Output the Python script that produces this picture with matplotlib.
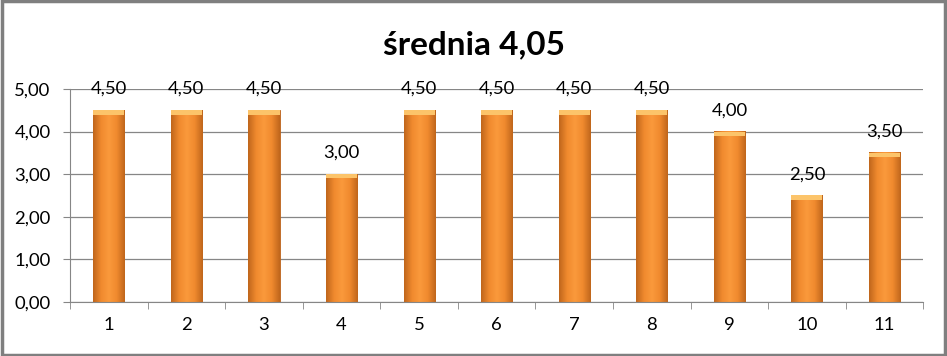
import numpy as np
import matplotlib.pyplot as plt
from matplotlib.patches import Rectangle
from matplotlib.colors import LinearSegmentedColormap

plt.rcParams['font.family'] = ['Lato', 'DejaVu Sans']

categories = ['1', '2', '3', '4', '5', '6', '7', '8', '9', '10', '11']
values = [4.5, 4.5, 4.5, 3.0, 4.5, 4.5, 4.5, 4.5, 4.0, 2.5, 3.5]
title = 'średnia 4,05'

fig = plt.figure(figsize=(9.47, 3.56), dpi=100)
ax = fig.add_axes([0.074, 0.152, 0.901, 0.598])

x = np.arange(len(categories))
width = 0.4

# horizontal shading to mimic the bevelled bars
cmap = LinearSegmentedColormap.from_list('bevel', ['#C0661C', '#F08A2E', '#FA9A3C', '#F08A2E', '#C0661C'])
grad = np.linspace(0, 1, 64).reshape(1, -1)

bars = ax.bar(x, values, width, color='#F79646', edgecolor='#B85F18', linewidth=0.6, zorder=2)
for b in bars:
    x0, w, h = b.get_x(), b.get_width(), b.get_height()
    ax.imshow(grad, cmap=cmap, aspect='auto', extent=[x0, x0 + w, 0, h], zorder=2.5)
    # light top cap
    ax.add_patch(Rectangle((x0, h - 0.1), w, 0.1, color='#FCC46A', zorder=3, lw=0))

for xi, v in zip(x, values):
    ax.text(xi, v + 0.5, f'{v:.2f}'.replace('.', ','), ha='center', va='center', fontsize=13.3, zorder=4)

ax.set_xlim(-0.5, len(categories) - 0.5)
ax.set_ylim(0, 5)
ax.set_yticks(np.arange(0, 5.01, 1))
ax.set_yticklabels([f'{t:.2f}'.replace('.', ',') for t in np.arange(0, 5.01, 1)], fontsize=13.3)
ax.set_xticks(x)
ax.set_xticklabels(categories, fontsize=13.3)
ax.set_xticks(np.arange(-0.5, len(categories)), minor=True)
ax.tick_params(axis='x', which='major', length=0, pad=11)
ax.tick_params(axis='x', which='minor', length=5, color='#868686')
ax.tick_params(axis='y', length=5, color='#868686', pad=9)
ax.grid(axis='y', color='#868686', linewidth=0.9, zorder=0)
ax.set_axisbelow(True)
for s in ['top', 'right']:
    ax.spines[s].set_visible(False)
for s in ['left', 'bottom']:
    ax.spines[s].set_color('#868686')

fig.text(0.5, 0.875, title, ha='center', va='center', fontsize=24, fontweight='bold')
fig.patches.append(Rectangle((0.002, 0.004), 0.996, 0.992, transform=fig.transFigure,
                             fill=False, edgecolor='#7F7F7F', linewidth=2.5))

fig.savefig('out.png', dpi=100)
